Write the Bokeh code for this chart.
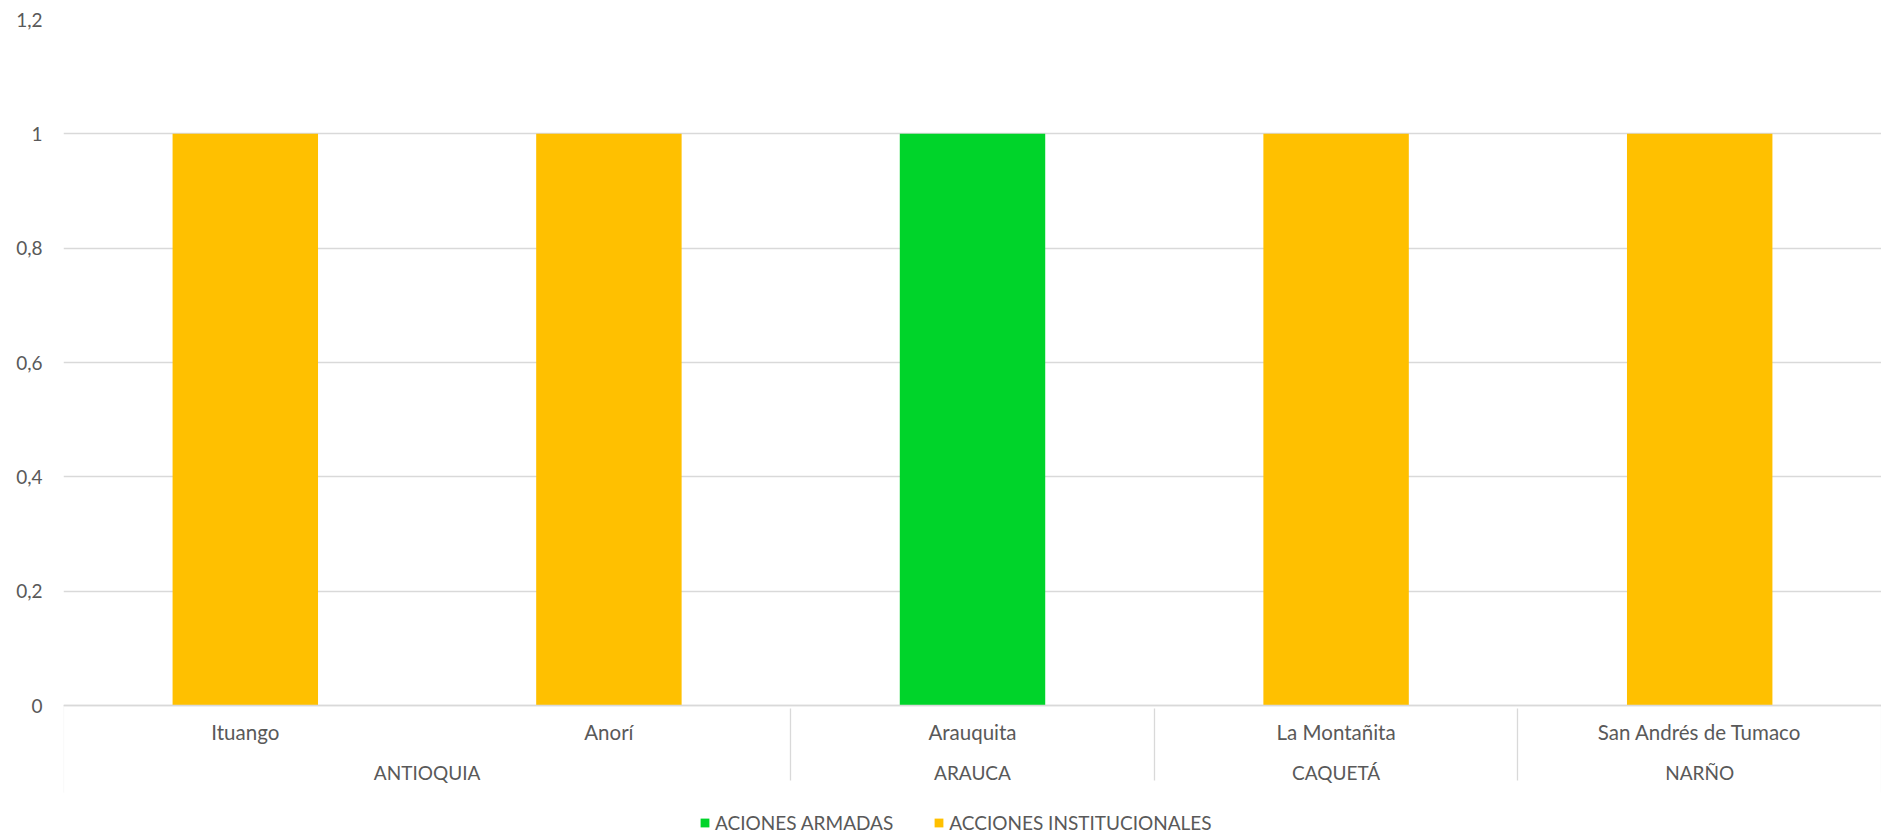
from bokeh.plotting import figure
from bokeh.models import FactorRange, Range1d, FixedTicker, Legend, PolyAnnotation
from bokeh.embed import file_html
from bokeh.resources import INLINE

departments = ["ANTIOQUIA", "ANTIOQUIA", "ARAUCA", "CAQUETÁ", "NARÑO"]
municipalities = ["Ituango", "Anorí", "Arauquita", "La Montañita", "San Andrés de Tumaco"]
series_names = ["ACIONES ARMADAS", "ACCIONES INSTITUCIONALES"]
acciones_armadas = [0, 0, 1, 0, 0]
acciones_institucionales = [1, 1, 0, 1, 1]
y_ticks = [0, 0.2, 0.4, 0.6, 0.8, 1, 1.2]
y_tick_labels = ["0", "0,2", "0,4", "0,6", "0,8", "1", "1,2"]

colors = ["#00D42A", "#FFC000"]
FONT = "Lato"
TXT = "#595959"
GRID = "#D9D9D9"
FS = "19px"

W, H = 1881, 835
TOP, LEFT = 19, 63
ZERO_Y = 705            # canvas pixel row of the value axis' zero
Y_MAX = 1.2
px_per_unit = (ZERO_Y - TOP) / Y_MAX
y_start = -(H - ZERO_Y) / px_per_unit   # frame extends down to hold the category axis and legend

factors = list(zip(departments, municipalities))
data = dict(x=factors)
data[series_names[0]] = acciones_armadas
data[series_names[1]] = acciones_institucionales

x_range = FactorRange(*factors, factor_padding=0, group_padding=0, range_padding=0)
p = figure(x_range=x_range, y_range=Range1d(y_start, Y_MAX),
           width=W, height=H, output_backend="svg", toolbar_location=None,
           min_border_left=LEFT, min_border_right=0, min_border_top=TOP, min_border_bottom=0)
p.outline_line_color = None
p.background_fill_color = "white"

renderers = p.vbar_stack(series_names, x="x", width=0.4, color=colors, line_color=None, source=data)

# y axis
yax = p.yaxis[0]
yax.ticker = FixedTicker(ticks=y_ticks)
yax.major_label_overrides = dict(zip(y_ticks, y_tick_labels))
yax.axis_line_color = None
yax.major_tick_line_color = None
yax.major_tick_out = 0
yax.major_tick_in = 0
yax.minor_tick_line_color = None
yax.major_label_text_color = TXT
yax.major_label_text_font = FONT
yax.major_label_text_font_size = FS
yax.major_label_standoff = 21

p.ygrid.ticker = FixedTicker(ticks=y_ticks)
p.ygrid.grid_line_color = GRID
p.ygrid.grid_line_width = 1.3
p.xgrid.grid_line_color = None

xax = p.xaxis[0]
xax.fixed_location = 0
xax.axis_line_color = GRID
xax.axis_line_width = 1.3
xax.major_tick_line_color = None
xax.major_tick_out = 0
xax.major_tick_in = 0
xax.minor_tick_line_color = None
xax.major_label_text_color = TXT
xax.major_label_text_font = FONT
xax.major_label_text_font_size = "20.5px"
xax.major_label_standoff = 14
xax.group_text_color = TXT
xax.group_text_font = FONT
xax.group_text_font_size = FS
xax.group_text_font_style = "normal"
xax.separator_line_color = GRID
xax.separator_line_width = 1.3

# outer edges of the category axis
n = len(factors)
for xe in (0, n):
    p.add_layout(PolyAnnotation(xs=[xe, xe], ys=[ZERO_Y, ZERO_Y + 87], xs_units="data", ys_units="canvas",
                                fill_color=None, line_color=GRID, line_width=1.3))

legend = Legend(items=[(series_names[i], [renderers[i]]) for i in range(2)],
                orientation="horizontal", location=(636, 1))
legend.label_text_font = FONT
legend.label_text_font_size = FS
legend.label_text_color = TXT
legend.glyph_width = 11
legend.glyph_height = 11
legend.label_standoff = 5
legend.spacing = 40
legend.border_line_color = None
legend.background_fill_alpha = 0
legend.padding = 0
legend.margin = 0
p.add_layout(legend, "center")

open("out.html", "w").write(file_html(p, INLINE))
